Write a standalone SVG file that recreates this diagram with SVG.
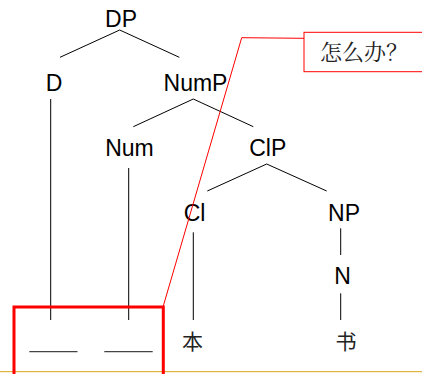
<svg xmlns="http://www.w3.org/2000/svg" width="422" height="374" viewBox="0 0 422 374">
<style>
.lbl{font-family:"Liberation Sans",Arial,sans-serif;font-size:23px;fill:#000;text-anchor:middle}
.cjk{font-family:"Noto Sans CJK SC",sans-serif;font-size:21px;fill:#222;text-anchor:middle}
.edge{stroke:#000;stroke-width:1;fill:none}
.gap{stroke:#444;stroke-width:1.2}
.red{stroke:#f00;fill:none}
</style>
<rect width="422" height="374" fill="#fff"/>
<g id="connectors">
<path class="edge" d="M60,57.3 L119.7,30 L179.3,57.3"/>
<path class="edge" d="M133.3,126.7 L193.3,99 L253.3,126.7"/>
<path class="edge" d="M207.3,191 L266.7,164 L326.7,191"/>
<line class="edge" x1="50.7" y1="99" x2="50.7" y2="320"/>
<line class="edge" x1="128.7" y1="168" x2="128.7" y2="320"/>
<line class="edge" x1="193.3" y1="232.3" x2="193.3" y2="320"/>
<line class="edge" x1="340.7" y1="228.3" x2="340.7" y2="255"/>
<line class="edge" x1="340.7" y1="293.3" x2="340.7" y2="320"/>
</g>
<g id="DP"><text class="lbl" x="121" y="27">DP</text></g>
<g id="D"><text class="lbl" x="54" y="90.7">D</text></g>
<g id="NumP"><text class="lbl" x="195.5" y="90.7">NumP</text></g>
<g id="Num"><text class="lbl" x="129.5" y="156">Num</text></g>
<g id="ClP"><text class="lbl" x="267.7" y="156">ClP</text></g>
<g id="Cl"><text class="lbl" x="194.5" y="220.7">Cl</text></g>
<g id="NP"><text class="lbl" x="344" y="220.7">NP</text></g>
<g id="N"><text class="lbl" x="342.5" y="284.3">N</text></g>
<g id="ben"><text class="cjk" x="192.5" y="349">本</text></g>
<g id="shu"><text class="cjk" x="346" y="349">书</text></g>
<g id="blanks">
<line class="gap" x1="29.3" y1="351.7" x2="77.5" y2="351.7"/>
<line class="gap" x1="104.3" y1="351.7" x2="152.7" y2="351.7"/>
</g>
<line x1="0" y1="371.7" x2="422" y2="371.7" stroke="#d9a41a" stroke-width="1"/>
<g id="highlight">
<rect class="red" x="14" y="307" width="149.3" height="80" stroke-width="3"/>
</g>
<g id="callout">
<path class="red" d="M163,307 L241.7,37.7 L304,38.3" stroke-width="1"/>
<rect x="304" y="32.3" width="120" height="39.4" fill="#fff" stroke="#f00" stroke-width="1"/>
<text class="cjk" x="364" y="60" style="font-family:'Noto Serif CJK SC','Noto Sans CJK SC',serif;font-size:22px">怎么办？</text>
</g>
</svg>
